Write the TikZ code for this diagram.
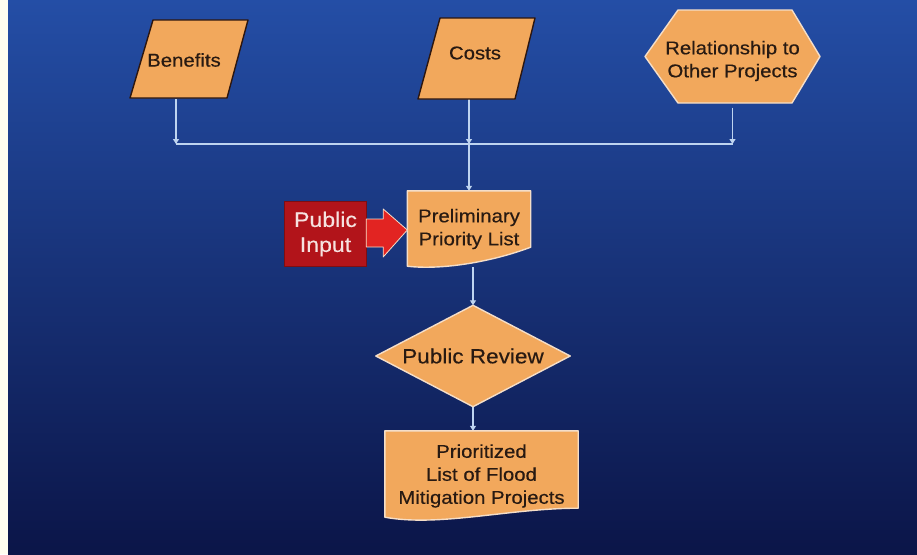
\documentclass[tikz,border=0pt]{standalone}
\usepackage{fontspec}
\setmainfont{Liberation Sans}[FakeStretch=1.1,FakeBold=0.4]
\usetikzlibrary{calc,arrows.meta}
\definecolor{orng}{RGB}{242,168,92}
\definecolor{txt}{RGB}{40,26,18}
\definecolor{darkedge}{RGB}{45,22,15}
\definecolor{lightedge}{RGB}{245,222,200}
\definecolor{lineblue}{RGB}{190,212,240}
\definecolor{bgtop}{RGB}{36,78,166}
\definecolor{bgmid}{RGB}{20,46,125}
\definecolor{bgbot}{RGB}{11,21,72}
\definecolor{redbox}{RGB}{178,20,26}
\definecolor{redarrow}{RGB}{226,36,34}
\definecolor{redtxt}{RGB}{246,226,224}
\pgfdeclarelayer{back}
\pgfdeclarelayer{conns}
\pgfdeclarelayer{shapes}
\pgfsetlayers{back,conns,shapes,main}
\begin{document}
\begin{tikzpicture}[x=1pt,y=-1pt,
  lbl/.style={font=\fontsize{18.5}{23}\selectfont, text=txt, align=center, inner sep=0pt},
  conn/.style={draw=lineblue, line width=1.3pt},
  tipd/.style={-{Triangle[length=5pt,width=6pt]}},
  shp/.style={fill=orng, line width=1.4pt, line join=round},
]
\useasboundingbox (0,0) rectangle (917,554);
\begin{pgfonlayer}{back}
  \fill[white!94!yellow] (0,0) rectangle (8,554);
  \shade[top color=bgtop, middle color=bgmid, bottom color=bgbot] (8,0) rectangle (917,554);
\end{pgfonlayer}

% nodes
\node[lbl, minimum width=118pt, minimum height=78pt] (ben) at (184,60) {Benefits};
\node[lbl, minimum width=117pt, minimum height=81pt] (cost) at (475,53) {Costs};
\node[lbl, minimum width=175pt, minimum height=93pt] (rel) at (732.5,61) {Relationship to\\Other Projects};
\coordinate (bus) at (0,144);
\node[lbl, minimum width=123pt, minimum height=76pt] (pre) at (469,229) {Preliminary\\Priority List};
\node[lbl, font=\fontsize{21}{25}\selectfont, text=redtxt, minimum width=81pt, minimum height=64pt] (pin) at (325.5,234) {Public\\Input};
\node[lbl, font=\fontsize{20.5}{24}\selectfont, minimum width=194pt, minimum height=101pt] (rev) at (473,356) {Public Review};
\node[lbl, minimum width=193pt, minimum height=90pt] (pl) at (481.5,476) {Prioritized\\List of Flood\\Mitigation Projects};

\begin{pgfonlayer}{shapes}
  \draw[shp, draw=darkedge] ($(ben.center)+(-31,-40)$) -- ($(ben.center)+(64,-40)$) -- ($(ben.center)+(43,38)$) -- ($(ben.center)+(-54,38)$) -- cycle;
  \draw[shp, draw=darkedge] ($(cost.center)+(-35,-35)$) -- ($(cost.center)+(60,-35)$) -- ($(cost.center)+(40,46)$) -- ($(cost.center)+(-57,46)$) -- cycle;
  \draw[shp, draw=lightedge] ($(rel.center)+(-87.5,-4.5)$) -- ($(rel.center)+(-54.5,-51)$) -- ($(rel.center)+(59.5,-51)$) -- ($(rel.center)+(87.5,-4.5)$) -- ($(rel.center)+(59.5,42)$) -- ($(rel.center)+(-54.5,42)$) -- cycle;
  \draw[shp, draw=lightedge] (pre.north west) -- (pre.north east) -- ($(pre.south east)+(0,-20)$)
     .. controls ($(pre.south)+(22,-5)$) and ($(pre.south)+(-28,3)$) .. ($(pre.south west)+(0,-1)$) -- cycle;
  \draw[fill=redbox, draw=redbox!70!black, line width=0.8pt] (pin.north west) rectangle (pin.south east);
  \draw[fill=redarrow, draw=lightedge, line width=0.8pt, line join=round]
     ($(pin.east)+(0,-15)$) -- ($(pin.east)+(17,-15)$) -- ($(pin.east)+(17,-25)$) -- ($(pre.west)+(0,1)$)
     -- ($(pin.east)+(17,23)$) -- ($(pin.east)+(17,13)$) -- ($(pin.east)+(0,13)$) -- cycle;
  \draw[shp, draw=lightedge] (rev.west) -- (rev.north) -- (rev.east) -- (rev.south) -- cycle;
  \draw[shp, draw=lightedge] (pl.north west) -- (pl.north east) -- ($(pl.south east)+(0,-13)$)
     .. controls ($(pl.south)+(28,-13)$) and ($(pl.south)+(-42,6)$) .. ($(pl.south west)+(0,-4)$) -- cycle;
\end{pgfonlayer}

\begin{pgfonlayer}{conns}
  \coordinate (benout) at ($(ben.south)+(-8,0)$);
  \draw[conn] (benout |- bus) -- (rel.south |- bus);
  \draw[conn,tipd] (benout) -- (benout |- bus);
  \draw[conn,tipd] (pre.north |- cost.south) -- (pre.north |- bus);
  \draw[conn,tipd] (rel.south) -- (rel.south |- bus);
  \draw[conn,tipd] (pre.north |- bus) -- (pre.north);
  \draw[conn,tipd] (rev.north |- pre.south) -- (rev.north);
  \draw[conn,tipd] (rev.south) -- (rev.south |- pl.north);
\end{pgfonlayer}
\end{tikzpicture}
\end{document}
